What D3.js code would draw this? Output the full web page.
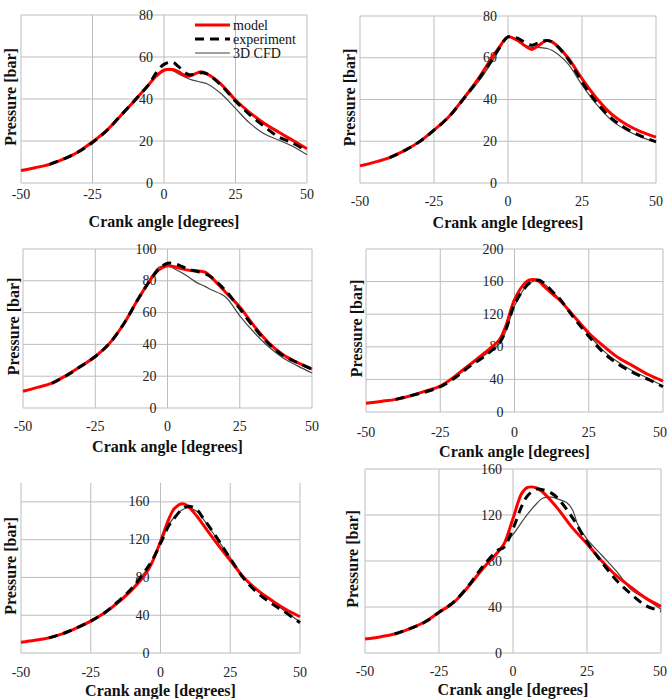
<!DOCTYPE html>
<html><head><meta charset="utf-8">
<script src="https://cdn.jsdelivr.net/npm/d3@7"></script>
<style>body{margin:0;background:#fff}svg{display:block}</style>
</head><body>
<svg id="c" width="668" height="699"></svg>
<script>
// ---------- data ----------
const X_TICKS = [-50, -25, 0, 25, 50];
const ANGLES = [-50,-45,-40,-35,-30,-25,-20,-15,-10,-5,-3,0,3,5,8,10,13,15,20,25,30,35,40,45,50];
const CFD6_ANGLES = [-50,-45,-40,-35,-30,-25,-20,-15,-10,-5,-3,0,3,5,8,10,13,15,18,20,22,25,30,35,40,45,50];
const SERIES_NAMES = ["model", "experiment", "3D CFD"];

const Y_TICKS_1 = [0,20,40,60,80];
const MODEL_1 = [6.0,7.3,8.9,11.5,14.8,19.6,25.1,32.3,39.7,47.4,50.5,53.7,54,53,50.8,51.5,53,52,47,39.5,33.5,28.5,24.3,20.3,16.3];
const EXP_1   = [null,null,8.9,11.5,14.8,19.3,25,32.3,39.7,47.4,52,56.5,57.5,55.5,52,51.5,52.5,52,46.5,39,32.5,27,22,19,15.2];
const CFD_1   = [null,null,8.9,11.5,14.8,19.3,25,32.3,39.7,47.4,50.5,53.7,53.5,52,50,49,48,47.3,42.5,35.5,28.5,23.5,20.5,17.5,13.4];

const Y_TICKS_2 = [0,20,40,60,80];
const MODEL_2 = [8.2,10,12.2,15.5,19.7,25.3,31.7,40.5,50,61,65,70,68.5,66.5,64,65.5,68.2,67.5,60.5,50,40.5,33,28,24.5,22];
const EXP_2   = [null,null,12.2,15.5,19.7,25.3,31.7,40.3,49.5,60,64.5,70,69.5,68,66,67,68.3,67.5,60,48.5,38.5,31,26,22.5,19.7];
const CFD_2   = [null,null,12.2,15.5,19.7,25.3,31.5,40,48.5,59,64,70,68,66.5,65,65,64.5,63.5,57.5,47,37.5,30,25.3,22,19.7];

const Y_TICKS_3 = [0,20,40,60,80,100];
const MODEL_3 = [10.5,13,15.7,20.5,26.2,32.4,40.8,53.3,69,83,87,89.5,88.5,87.5,86.5,86.3,85.5,82.5,73,63.5,51.5,41,33.5,28.5,24.5];
const EXP_3   = [null,null,15.5,20.3,26.2,32.4,40.8,53.3,69,83,87.5,91,90.5,89,87,86,84.5,82.5,74,62.5,50.5,40.5,33,28.5,24.5];
const CFD_3   = [null,null,15.5,20.3,26.2,32.4,40.8,53.3,69,84,88.5,89.5,87,85,81.5,79,76.5,74.5,70,58,47.5,38.5,31.5,26.5,22];

const Y_TICKS_4 = [0,40,80,120,160,200];
const MODEL_4 = [10.6,13,15.5,20,25.7,31.8,44,58.4,72.7,89,105,138,156,162,161,154,144,138,117.6,97,80.8,66.5,56.3,46,38];
const EXP_4   = [null,null,15.5,20,24.5,31,42,56.3,68.6,85,100,132,150,158,162,158,147,140,115.5,93,72.7,58.4,48.2,40,31];
const CFD_4   = [null,null,15.5,20,25,31.5,43,57,70,84,98,130,150,158,161,157,147,139,117,95,75,61,50,41.5,32];

const Y_TICKS_5 = [0,40,80,120,160];
const MODEL_5 = [11.4,13.5,16,20.5,26.7,33.8,42.7,54,67.6,85.4,96,118,142,153,158,155,145,137,117,98,79.5,66,55.5,46,38.4];
const EXP_5   = [null,null,16,20.5,26.7,33.8,42.7,55,69.4,89,98,116,135,143,153,155.5,152,144,123,100,78.3,63,52,42.5,32];
const CFD_5   = [null,null,16,20.5,26.7,33.8,42.7,55,69,88,97,116,136,144,152,153.5,150,143,122,101,80,65.5,54.5,43.5,33];

const Y_TICKS_6 = [0,40,80,120,160];
const MODEL_6 = [12.2,14,16.5,21,26.7,35.4,44.1,58,74,88,95,117,139,144,143.5,140,132,126,109,95,80,67,57,47.5,40.5];
const EXP_6   = [null,null,16.5,21,26.5,35.4,44.5,58.6,76,89.5,92,108,128,137,142.5,142,139,135,118,96.5,79,63,51,41,36.5];
const CFD_6   = [null,null,16.5,21,26.7,35.4,44.3,58.3,75,88.5,95,103,114,121,130,134.5,135.5,134,131,125,111,99,85,71,55,47,38];

// ---------- layout (positions / styles) ----------
const PANELS = [
  {left:21, right:307, top:15,  bottom:183, ymax:80,  yt:Y_TICKS_1, m:MODEL_1, e:EXP_1, c:CFD_1, ca:ANGLES, xlabY:194, titleY:221, ylabX:10, legend:true},
  {left:360,right:656, top:16,  bottom:183, ymax:80,  yt:Y_TICKS_2, m:MODEL_2, e:EXP_2, c:CFD_2, ca:ANGLES, xlabY:201, titleY:222, ylabX:349},
  {left:23, right:312, top:249, bottom:408, ymax:100, yt:Y_TICKS_3, m:MODEL_3, e:EXP_3, c:CFD_3, ca:ANGLES, xlabY:426, titleY:446, ylabX:13},
  {left:366,right:663, top:249, bottom:412, ymax:200, yt:Y_TICKS_4, m:MODEL_4, e:EXP_4, c:CFD_4, ca:ANGLES, xlabY:432, titleY:451, ylabX:356},
  {left:21, right:300, top:483, bottom:653, ymax:180, yt:Y_TICKS_5, m:MODEL_5, e:EXP_5, c:CFD_5, ca:ANGLES, xlabY:672, titleY:690, ylabX:10},
  {left:365,right:661, top:469, bottom:653, ymax:160, yt:Y_TICKS_6, m:MODEL_6, e:EXP_6, c:CFD_6, ca:CFD6_ANGLES, xlabY:671, titleY:689, ylabX:352}
];

const FONT = "Liberation Serif, Times New Roman, DejaVu Serif, serif";
const GRID = "#bdbdbd";
const W = 668;
const svg = d3.select("#c");

PANELS.forEach(p => {
  const g = svg.append("g");
  const x = d3.scaleLinear().domain([-50, 50]).range([p.left, p.right]);
  const y = d3.scaleLinear().domain([0, p.ymax]).range([p.bottom, p.top]);

  g.selectAll(".vg").data(X_TICKS).join("line")
    .attr("x1", d => x(d)).attr("x2", d => x(d))
    .attr("y1", p.bottom).attr("y2", p.top)
    .attr("stroke", GRID).attr("stroke-width", 1);
  g.selectAll(".hg").data(p.yt).join("line")
    .attr("x1", p.left).attr("x2", p.right)
    .attr("y1", d => y(d)).attr("y2", d => y(d))
    .attr("stroke", GRID).attr("stroke-width", 1);

  g.selectAll(".yl").data(p.yt).join("text")
    .attr("x", x(0) - 11).attr("y", d => y(d))
    .attr("text-anchor", "end").attr("dominant-baseline", "central")
    .attr("font-family", FONT).attr("font-size", 14).attr("fill", "#222")
    .text(d => d);
  g.selectAll(".xl").data(X_TICKS).join("text")
    .attr("x", d => x(d) + 9 > W ? W - 1 : x(d))
    .attr("y", p.xlabY)
    .attr("text-anchor", d => x(d) + 9 > W ? "end" : "middle")
    .attr("dominant-baseline", "central")
    .attr("font-family", FONT).attr("font-size", 14).attr("fill", "#222")
    .text(d => d);

  g.append("text").attr("x", (p.left + p.right) / 2).attr("y", p.titleY)
    .attr("text-anchor", "middle").attr("dominant-baseline", "central")
    .attr("font-family", FONT).attr("font-size", 16).attr("font-weight", "bold").attr("fill", "#111")
    .text("Crank angle [degrees]");
  const cy = (p.top + p.bottom) / 2 - 2;
  g.append("text").attr("transform", `translate(${p.ylabX},${cy}) rotate(-90)`)
    .attr("text-anchor", "middle").attr("dominant-baseline", "central")
    .attr("font-family", FONT).attr("font-size", 16).attr("font-weight", "bold").attr("fill", "#111")
    .text("Pressure [bar]");

  const mk = (angles, vals) => angles.map((a, i) => ({a, v: vals[i]}));
  const line = d3.line().defined(d => d.v != null)
    .x(d => x(d.a)).y(d => y(d.v)).curve(d3.curveCatmullRom.alpha(0.5));

  g.append("path").datum(mk(p.ca, p.c)).attr("d", line)
    .attr("fill", "none").attr("stroke", "#444").attr("stroke-width", 1.2);
  g.append("path").datum(mk(ANGLES, p.m)).attr("d", line)
    .attr("fill", "none").attr("stroke", "#ff0000").attr("stroke-width", 3);
  g.append("path").datum(mk(ANGLES, p.e)).attr("d", line)
    .attr("fill", "none").attr("stroke", "#000").attr("stroke-width", 3)
    .attr("stroke-dasharray", "9,6");

  if (p.legend) {
    const styles = [
      {stroke:"#ff0000", w:3, dash:null},
      {stroke:"#000", w:3, dash:"9,6"},
      {stroke:"#444", w:1.2, dash:null}
    ];
    const lg = g.append("g");
    SERIES_NAMES.forEach((name, i) => {
      const yy = 25 + i * 14;
      lg.append("line").attr("x1", 195).attr("x2", 230).attr("y1", yy).attr("y2", yy)
        .attr("stroke", styles[i].stroke).attr("stroke-width", styles[i].w)
        .attr("stroke-dasharray", styles[i].dash);
      lg.append("text").attr("x", 233).attr("y", yy).attr("dominant-baseline", "central")
        .attr("font-family", FONT).attr("font-size", 14).attr("fill", "#111").text(name);
    });
  }
});
</script>
</body></html>
